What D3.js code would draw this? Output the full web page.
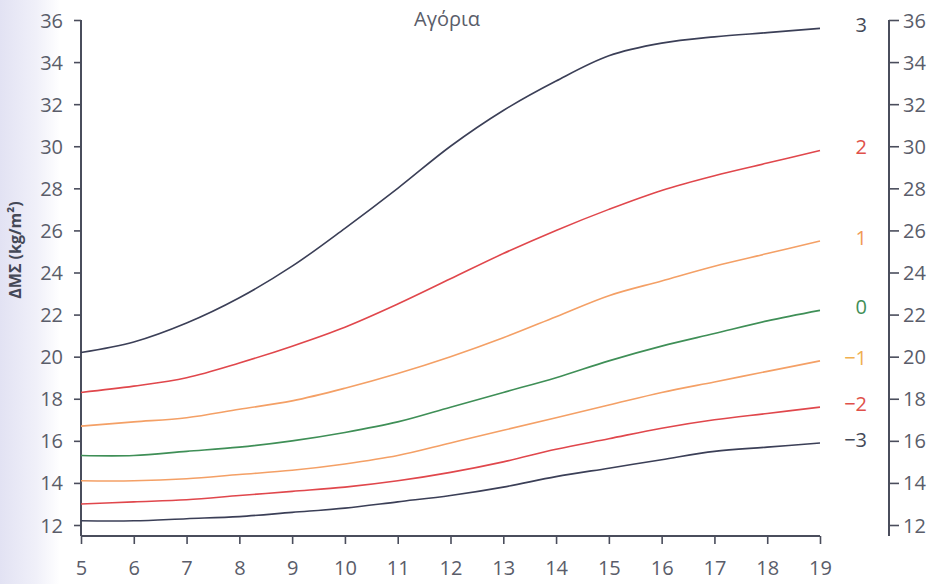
<!DOCTYPE html>
<html>
<head>
<meta charset="utf-8">
<script src="https://cdn.jsdelivr.net/npm/d3@7"></script>
<style>
  html, body { margin: 0; padding: 0; background: #fff; }
  svg { display: block; font-family: "Open Sans", "Noto Sans", sans-serif; }
</style>
</head>
<body>
<svg id="chart" width="937" height="584"></svg>
<script>
// ---- Data (WHO BMI-for-age, boys 5–19 years) ----
const ages = [5, 6, 7, 8, 9, 10, 11, 12, 13, 14, 15, 16, 17, 18, 19];
const zLabels = ["3", "2", "1", "0", "\u22121", "\u22122", "\u22123"];
const zP3 = [20.2, 20.7, 21.6, 22.8, 24.3, 26.1, 28.0, 30.0, 31.7, 33.1, 34.3, 34.9, 35.2, 35.4, 35.6];
const zP2 = [18.3, 18.6, 19.0, 19.7, 20.5, 21.4, 22.5, 23.7, 24.9, 26.0, 27.0, 27.9, 28.6, 29.2, 29.8];
const zP1 = [16.7, 16.9, 17.1, 17.5, 17.9, 18.5, 19.2, 20.0, 20.9, 21.9, 22.9, 23.6, 24.3, 24.9, 25.5];
const z0  = [15.3, 15.3, 15.5, 15.7, 16.0, 16.4, 16.9, 17.6, 18.3, 19.0, 19.8, 20.5, 21.1, 21.7, 22.2];
const zM1 = [14.1, 14.1, 14.2, 14.4, 14.6, 14.9, 15.3, 15.9, 16.5, 17.1, 17.7, 18.3, 18.8, 19.3, 19.8];
const zM2 = [13.0, 13.1, 13.2, 13.4, 13.6, 13.8, 14.1, 14.5, 15.0, 15.6, 16.1, 16.6, 17.0, 17.3, 17.6];
const zM3 = [12.2, 12.2, 12.3, 12.4, 12.6, 12.8, 13.1, 13.4, 13.8, 14.3, 14.7, 15.1, 15.5, 15.7, 15.9];
const yTicks = [12, 14, 16, 18, 20, 22, 24, 26, 28, 30, 32, 34, 36];
const xTicks = [5, 6, 7, 8, 9, 10, 11, 12, 13, 14, 15, 16, 17, 18, 19];
const seriesValues = [zP3, zP2, zP1, z0, zM1, zM2, zM3];
const seriesColors = ["#3b3f57", "#e0474c", "#f4a066", "#3f8f57", "#f4a066", "#e0474c", "#3b3f57"];
const labelColors  = ["#444857", "#e0504a", "#f19a55", "#3f8f57", "#f0b050", "#e0504a", "#444857"];
const titleText = "Αγόρια";
const yLabelText = "ΔΜΣ (kg/m²)";

// ---- Layout ----
const svg = d3.select("#chart");
const plotLeft = 81, plotRight = 820, plotTop = 20, plotBottom = 525, xAxisY = 536, rightAxisX = 889;

const defs = svg.append("defs");
const grad = defs.append("linearGradient").attr("id", "edge").attr("x1", "0").attr("x2", "1");
grad.append("stop").attr("offset", "0").attr("stop-color", "#e2e2f3");
grad.append("stop").attr("offset", "0.6").attr("stop-color", "#f0f0f9");
grad.append("stop").attr("offset", "1").attr("stop-color", "#ffffff");
svg.append("rect").attr("x", 0).attr("y", 0).attr("width", 60).attr("height", 584).attr("fill", "url(#edge)");

const x = d3.scaleLinear().domain([5, 19]).range([plotLeft, plotRight]);
const y = d3.scaleLinear().domain([12, 36]).range([plotBottom, plotTop]);

const axisColor = "#4a4d5c";
const textColor = "#5a5d6a";
const fontFam = "'Open Sans', 'Noto Sans', sans-serif";

function styleAxis(g) {
  g.selectAll("path.domain").attr("stroke", axisColor).attr("stroke-width", 2);
  g.selectAll(".tick line").attr("stroke", axisColor).attr("stroke-width", 1.6);
  g.selectAll(".tick text").attr("fill", textColor).style("font-size", "20px")
    .style("font-family", fontFam);
}

// Left axis
const gL = svg.append("g").attr("transform", `translate(${plotLeft},0)`)
  .call(d3.axisLeft(y).tickValues(yTicks).tickSize(7).tickSizeOuter(0));
gL.select("path.domain").attr("d", `M0,${plotTop}V${xAxisY}`);
styleAxis(gL);
gL.selectAll(".tick text").attr("x", -18).attr("dy", "0.35em");

// Right axis
const gR = svg.append("g").attr("transform", `translate(${rightAxisX},0)`)
  .call(d3.axisRight(y).tickValues(yTicks).tickSize(10).tickSizeOuter(0));
gR.select("path.domain").attr("d", `M0,${plotTop}V${xAxisY}`);
styleAxis(gR);
gR.selectAll(".tick text").attr("x", 14).attr("dy", "0.35em");

// Bottom axis
const gB = svg.append("g").attr("transform", `translate(0,${xAxisY})`)
  .call(d3.axisBottom(x).tickValues(xTicks).tickSize(8).tickSizeOuter(0));
gB.select("path.domain").attr("d", `M${plotLeft},0H${plotRight}`);
styleAxis(gB);
gB.selectAll(".tick text").attr("y", 39).attr("dy", null);

// Curves
const line = d3.line()
  .x((d, i) => x(ages[i]))
  .y(d => y(d))
  .curve(d3.curveCatmullRom.alpha(0.5));

svg.append("g").selectAll("path.curve")
  .data(seriesValues)
  .join("path")
  .attr("class", "curve")
  .attr("fill", "none")
  .attr("stroke", (d, i) => seriesColors[i])
  .attr("stroke-width", 1.6)
  .attr("d", line);

// Z-score labels
svg.append("g").selectAll("text.z")
  .data(seriesValues)
  .join("text")
  .attr("class", "z")
  .attr("x", 867)
  .attr("y", d => y(d[d.length - 1]))
  .attr("dy", "0.2em")
  .attr("text-anchor", "end")
  .attr("fill", (d, i) => labelColors[i])
  .style("font-size", "20px")
  .style("font-family", fontFam)
  .text((d, i) => zLabels[i]);

// Title
svg.append("text")
  .attr("x", 447).attr("y", 26)
  .attr("text-anchor", "middle")
  .attr("fill", textColor)
  .style("font-size", "20px")
  .style("font-family", fontFam)
  .text(titleText);

// Y label
svg.append("text")
  .attr("transform", `translate(21,250) rotate(-90)`)
  .attr("text-anchor", "middle")
  .attr("fill", "#444857")
  .style("font-size", "16px")
  .style("font-weight", "bold")
  .style("font-family", fontFam)
  .text(yLabelText);
</script>
</body>
</html>
